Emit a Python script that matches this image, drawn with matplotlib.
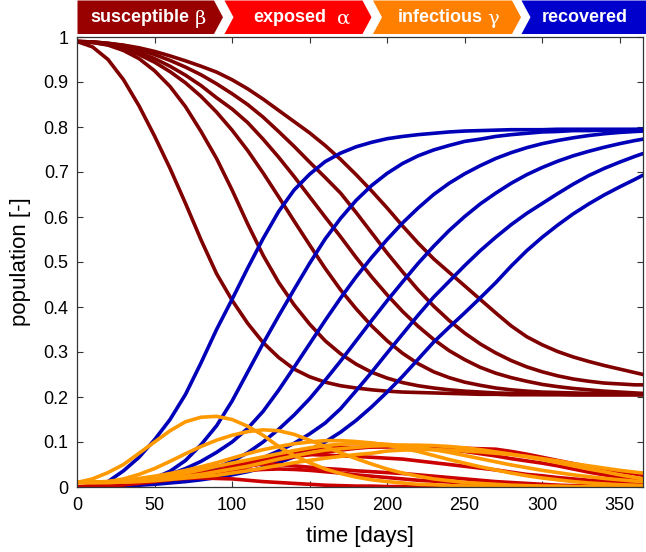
import matplotlib
matplotlib.use("Agg")
import matplotlib.pyplot as plt
from matplotlib.patches import Polygon

days = [0, 10, 20, 30, 40, 50, 60, 70, 80, 90, 100, 110, 120, 130, 140, 150, 160, 170, 180,
        190, 200, 210, 220, 230, 240, 250, 260, 270, 280, 290, 300, 310, 320, 330, 340, 350,
        360, 365]

susceptible_1 = [.990, .978, .950, .905, .847, .780, .708, .630, .549, .474, .415, .364, .321, .288, .262, .245, .233, .225, .220, .216, .213, .211, .210, .209, .208, .207, .206, .206, .205, .205, .205, .205, .205, .205, .205, .205, .205, .205]
susceptible_2 = [.990, .988, .982, .970, .952, .925, .890, .845, .790, .730, .660, .585, .515, .455, .405, .362, .325, .296, .273, .255, .242, .232, .225, .220, .216, .213, .211, .209, .208, .207, .206, .206, .205, .205, .205, .205, .205, .205]
susceptible_3 = [.990, .988, .983, .974, .961, .944, .923, .898, .868, .833, .793, .748, .698, .645, .591, .538, .486, .438, .396, .358, .325, .297, .274, .256, .243, .233, .226, .220, .216, .213, .211, .210, .209, .208, .207, .207, .206, .206]
susceptible_4 = [.990, .989, .985, .977, .966, .952, .935, .915, .892, .865, .840, .810, .773, .733, .690, .645, .600, .556, .510, .467, .427, .390, .357, .328, .303, .283, .266, .253, .243, .235, .228, .223, .219, .216, .213, .211, .209, .208]
susceptible_5 = [.990, .989, .986, .981, .972, .961, .948, .933, .916, .896, .874, .850, .822, .790, .757, .722, .688, .653, .610, .565, .520, .478, .438, .402, .370, .342, .318, .298, .281, .267, .256, .247, .240, .235, .231, .229, .227, .227]
susceptible_6 = [.990, .989, .986, .982, .976, .968, .958, .947, .935, .922, .905, .885, .862, .837, .812, .787, .759, .728, .694, .658, .620, .580, .542, .507, .477, .447, .417, .387, .358, .334, .316, .301, .289, .279, .270, .262, .254, .250]

exposed_1 = [0, .003, .006, .009, .012, .015, .017, .019, .020, .019, .018, .015, .012, .010, .008, .006, .004, .003, .002, .002, .001, .001, .001, 0, 0, 0, 0, 0, 0, 0, 0, 0, 0, 0, 0, 0, 0, 0]
exposed_2 = [0, .001, .004, .007, .010, .014, .018, .022, .026, .030, .034, .037, .039, .040, .039, .037, .034, .031, .027, .024, .021, .018, .015, .013, .011, .009, .008, .006, .005, .004, .003, .003, .002, .002, .001, .001, .001, .001]
exposed_3 = [0, .001, .003, .006, .010, .014, .019, .024, .030, .036, .043, .048, .051, .050, .047, .044, .041, .039, .036, .034, .032, .030, .027, .024, .021, .018, .015, .012, .010, .008, .006, .004, .003, .002, .001, 0, 0, 0]
exposed_4 = [0, .001, .003, .007, .012, .018, .024, .031, .038, .046, .050, .054, .060, .065, .069, .072, .071, .069, .068, .066, .064, .062, .058, .054, .050, .046, .042, .038, .033, .028, .025, .021, .018, .015, .013, .010, .008, .007]
exposed_5 = [0, .001, .003, .005, .010, .014, .019, .024, .030, .037, .044, .051, .059, .068, .077, .084, .088, .088, .088, .089, .090, .089, .087, .084, .083, .079, .074, .069, .063, .058, .053, .047, .040, .033, .027, .022, .017, .014]
exposed_6 = [0, .001, .003, .005, .008, .012, .016, .021, .026, .031, .037, .045, .053, .061, .067, .072, .077, .082, .086, .089, .089, .092, .091, .088, .086, .086, .085, .084, .079, .073, .066, .059, .052, .045, .039, .034, .029, .026]

infectious_1 = [.010, .018, .032, .050, .075, .100, .125, .145, .155, .157, .150, .135, .115, .090, .070, .054, .040, .030, .022, .016, .012, .009, .006, .005, .003, .002, .002, .001, .001, .001, .001, 0, 0, 0, 0, 0, 0, 0]
infectious_2 = [.010, .011, .012, .018, .028, .041, .057, .074, .090, .104, .115, .123, .127, .125, .117, .104, .090, .076, .063, .051, .040, .031, .024, .018, .014, .010, .008, .006, .004, .003, .002, .002, .001, .001, .001, .001, 0, 0]
infectious_3 = [.010, .011, .012, .015, .019, .024, .030, .037, .045, .054, .064, .074, .083, .090, .096, .100, .103, .103, .101, .098, .093, .086, .079, .070, .061, .053, .045, .038, .031, .025, .020, .016, .012, .009, .007, .005, .004, .003]
infectious_4 = [.010, .010, .011, .013, .016, .020, .025, .031, .038, .046, .053, .060, .067, .074, .081, .087, .092, .095, .097, .097, .095, .092, .088, .083, .077, .070, .063, .056, .049, .043, .037, .032, .027, .023, .019, .016, .013, .012]
infectious_5 = [.010, .010, .010, .011, .013, .016, .020, .024, .028, .034, .040, .046, .054, .062, .069, .076, .082, .085, .088, .091, .092, .093, .093, .092, .090, .087, .083, .078, .073, .067, .061, .054, .047, .040, .034, .027, .021, .018]
infectious_6 = [.010, .010, .010, .011, .012, .014, .017, .020, .023, .026, .031, .036, .042, .048, .054, .059, .064, .068, .072, .075, .080, .082, .083, .083, .082, .080, .078, .075, .072, .068, .063, .058, .052, .047, .042, .037, .033, .031]

recovered_1 = [0, .002, .012, .036, .066, .105, .150, .206, .276, .350, .417, .486, .552, .612, .660, .695, .723, .742, .756, .766, .774, .779, .783, .786, .789, .791, .792, .793, .794, .794, .794, .795, .795, .795, .795, .795, .795, .795]
recovered_2 = [0, 0, .002, .005, .010, .020, .035, .059, .094, .136, .191, .255, .319, .380, .439, .497, .551, .597, .637, .670, .697, .719, .736, .749, .759, .768, .773, .779, .783, .786, .789, .790, .792, .792, .793, .793, .794, .794]
recovered_3 = [0, 0, .002, .005, .010, .018, .028, .041, .057, .077, .100, .130, .168, .215, .266, .318, .370, .420, .467, .510, .550, .587, .620, .650, .675, .696, .714, .730, .743, .754, .763, .770, .776, .781, .785, .788, .790, .791]
recovered_4 = [0, 0, .001, .003, .006, .010, .016, .023, .032, .043, .057, .076, .100, .128, .160, .196, .237, .280, .325, .370, .414, .456, .497, .535, .570, .601, .629, .653, .675, .694, .710, .724, .736, .746, .755, .763, .770, .773]
recovered_5 = [0, 0, .001, .003, .005, .009, .013, .019, .026, .033, .042, .053, .065, .080, .097, .118, .142, .174, .214, .255, .298, .340, .382, .422, .457, .492, .525, .555, .583, .608, .630, .652, .673, .692, .708, .722, .735, .741]
recovered_6 = [0, 0, .001, .002, .004, .006, .009, .012, .016, .021, .027, .034, .043, .054, .067, .082, .100, .122, .148, .178, .211, .246, .284, .322, .355, .387, .420, .454, .491, .525, .555, .582, .607, .629, .649, .667, .684, .693]

susceptible = [susceptible_1, susceptible_2, susceptible_3, susceptible_4, susceptible_5, susceptible_6]
exposed = [exposed_1, exposed_2, exposed_3, exposed_4, exposed_5, exposed_6]
infectious = [infectious_1, infectious_2, infectious_3, infectious_4, infectious_5, infectious_6]
recovered = [recovered_1, recovered_2, recovered_3, recovered_4, recovered_5, recovered_6]

banner_labels = ["susceptible", "exposed", "infectious", "recovered"]
banner_greek = ["\u03b2", "\u03b1", "\u03b3", ""]

x_ticks = [0, 50, 100, 150, 200, 250, 300, 350]
y_ticks = [0, 0.1, 0.2, 0.3, 0.4, 0.5, 0.6, 0.7, 0.8, 0.9, 1]
y_tick_labels = ["0", "0.1", "0.2", "0.3", "0.4", "0.5", "0.6", "0.7", "0.8", "0.9", "1"]

C_S = "#800000"
C_E = "#cc0000"
C_I = "#ff9900"
C_R = "#0000b8"

plt.rcParams['font.family'] = ['Liberation Sans', 'DejaVu Sans']

W, H = 646, 552
fig = plt.figure(figsize=(W / 100, H / 100), dpi=100)
ax = fig.add_axes([77 / W, 1 - 487 / H, (643 - 77) / W, (487 - 37) / H])

lw = 2.6
for s in susceptible:
    ax.plot(days, s, color=C_S, lw=lw, solid_joinstyle='round', solid_capstyle='round')
for r in recovered:
    ax.plot(days, r, color=C_R, lw=lw, solid_joinstyle='round', solid_capstyle='round')
for e in exposed:
    ax.plot(days, e, color=C_E, lw=lw, solid_joinstyle='round', solid_capstyle='round')
for i in infectious:
    ax.plot(days, i, color=C_I, lw=lw, solid_joinstyle='round', solid_capstyle='round')

ax.set_xlim(0, 365)
ax.set_ylim(0, 1)
ax.set_xticks(x_ticks)
ax.set_yticks(y_ticks)
ax.set_yticklabels(y_tick_labels)
ax.tick_params(direction='in', length=4.5, width=0.8, labelsize=13, top=True, right=True,
               color='#333333')
ax.tick_params(axis='x', pad=7)
ax.tick_params(axis='y', pad=6)
for sp in ax.spines.values():
    sp.set_linewidth(0.9)
    sp.set_color('#333333')
ax.set_xlabel("time [days]", fontsize=16, labelpad=9)
ax.set_ylabel("population [-]", fontsize=16, labelpad=9)

# banner of chevrons
seg_colors = ["#990000", "#ff0000", "#ff8000", "#0000cc"]
segs = [(77.5, 214), (224.5, 362.5), (373, 512), (521.5, 646)]
top, bot = 0.5, 34.0
mid = (top + bot) / 2
d = 9.0

def fx(x):
    return x / W

def fy(y):
    return 1 - y / H

for k, ((x0, x1), col) in enumerate(zip(segs, seg_colors)):
    pts = [(x0, top), (x1, top)]
    if k < 3:
        pts.append((x1 + d, mid))
    pts += [(x1, bot), (x0, bot)]
    if k > 0:
        pts.append((x0 + d, mid))
    poly = Polygon([(fx(a), fy(b)) for a, b in pts], closed=True, facecolor=col,
                   edgecolor='none', transform=fig.transFigure)
    fig.patches.append(poly)

word_x = [90, 253, 397.5, 542]
greek_x = [200, 344, 493, None]
for k in range(4):
    fig.text(fx(word_x[k]), fy(18), banner_labels[k], color='white', fontsize=13,
             fontweight='bold', ha='left', va='center')
    if greek_x[k] is not None:
        fig.text(fx(greek_x[k]), fy(19), banner_greek[k], color='white', fontsize=14,
                 ha='center', va='center', family=['DejaVu Serif', 'DejaVu Sans'])

fig.savefig("out.png", dpi=100)
